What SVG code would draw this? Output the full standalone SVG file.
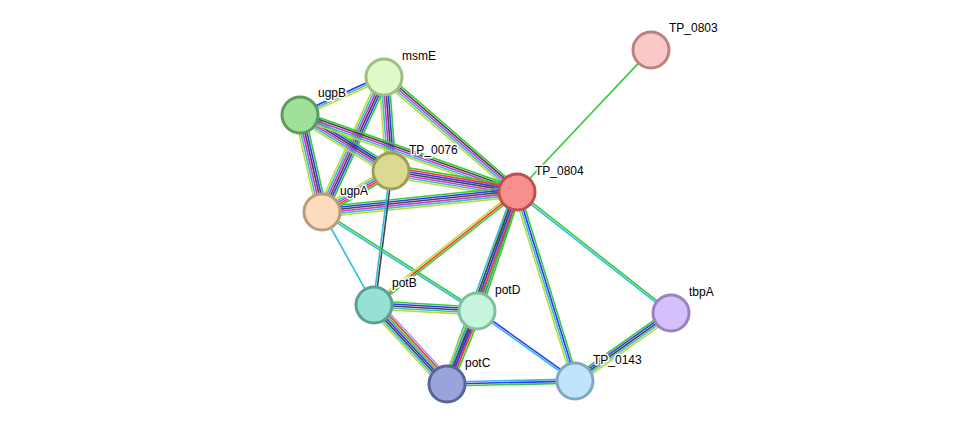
<svg xmlns="http://www.w3.org/2000/svg" width="976" height="430" viewBox="0 0 976 430">
<style>
line{stroke-width:1.6;fill:none}
.g{stroke:#33cc33}.r{stroke:#ff3333}.b{stroke:#3333ff}.k{stroke:#444}.m{stroke:#cc33cc}.c{stroke:#33bbdd}.y{stroke:#bbdd33}.l{stroke:#9999ff}
circle{stroke-width:3}
text{font-family:"Liberation Sans",Arial,sans-serif;font-size:12px;fill:#000;stroke:#fff;stroke-width:3px;paint-order:stroke;stroke-linejoin:round}
</style>
<rect width="976" height="430" fill="#fff"/>
<g id="edges">
<g transform="translate(517,192) rotate(-46.7)"><line class="g" x2="195" y1="0" y2="0"/></g>
<g transform="translate(300,115) rotate(-24.3)"><line class="b" x2="92" y1="-2" y2="-2"/><line class="c" x2="92" y1="0" y2="0"/><line class="y" x2="92" y1="2" y2="2"/></g>
<g transform="translate(384,77) rotate(85.7)"><line class="g" x2="94" y1="-5" y2="-5"/><line class="b" x2="94" y1="-3" y2="-3"/><line class="k" x2="94" y1="-1" y2="-1"/><line class="m" x2="94" y1="1" y2="1"/><line class="c" x2="94" y1="3" y2="3"/><line class="y" x2="94" y1="5" y2="5"/></g>
<g transform="translate(384,77) rotate(114.7)"><line class="g" x2="149" y1="-5" y2="-5"/><line class="b" x2="149" y1="-3" y2="-3"/><line class="k" x2="149" y1="-1" y2="-1"/><line class="m" x2="149" y1="1" y2="1"/><line class="c" x2="149" y1="3" y2="3"/><line class="y" x2="149" y1="5" y2="5"/></g>
<g transform="translate(384,77) rotate(40.8)"><line class="g" x2="176" y1="-4" y2="-4"/><line class="k" x2="176" y1="-2" y2="-2"/><line class="m" x2="176" y1="0" y2="0"/><line class="c" x2="176" y1="2" y2="2"/><line class="y" x2="176" y1="4" y2="4"/></g>
<g transform="translate(300,115) rotate(31.6)"><line class="g" x2="107" y1="-5" y2="-5"/><line class="b" x2="107" y1="-3" y2="-3"/><line class="k" x2="107" y1="-1" y2="-1"/><line class="m" x2="107" y1="1" y2="1"/><line class="c" x2="107" y1="3" y2="3"/><line class="y" x2="107" y1="5" y2="5"/></g>
<g transform="translate(300,115) rotate(77.2)"><line class="g" x2="100" y1="-5" y2="-5"/><line class="b" x2="100" y1="-3" y2="-3"/><line class="k" x2="100" y1="-1" y2="-1"/><line class="m" x2="100" y1="1" y2="1"/><line class="c" x2="100" y1="3" y2="3"/><line class="y" x2="100" y1="5" y2="5"/></g>
<g transform="translate(300,115) rotate(19.5)"><line class="g" x2="230" y1="-4" y2="-4"/><line class="k" x2="230" y1="-2" y2="-2"/><line class="m" x2="230" y1="0" y2="0"/><line class="c" x2="230" y1="2" y2="2"/><line class="y" x2="230" y1="4" y2="4"/></g>
<g transform="translate(391,171) rotate(149.3)"><line class="g" x2="80" y1="-4" y2="-4"/><line class="r" x2="80" y1="-2" y2="-2"/><line class="m" x2="80" y1="0" y2="0"/><line class="c" x2="80" y1="2" y2="2"/><line class="y" x2="80" y1="4" y2="4"/></g>
<g transform="translate(391,171) rotate(9.5)"><line class="g" x2="128" y1="-6" y2="-6"/><line class="r" x2="128" y1="-4" y2="-4"/><line class="b" x2="128" y1="-2" y2="-2"/><line class="k" x2="128" y1="0" y2="0"/><line class="m" x2="128" y1="2" y2="2"/><line class="c" x2="128" y1="4" y2="4"/><line class="y" x2="128" y1="6" y2="6"/></g>
<g transform="translate(322,212) rotate(-5.9)"><line class="g" x2="196" y1="-5" y2="-5"/><line class="b" x2="196" y1="-3" y2="-3"/><line class="k" x2="196" y1="-1" y2="-1"/><line class="m" x2="196" y1="1" y2="1"/><line class="c" x2="196" y1="3" y2="3"/><line class="y" x2="196" y1="5" y2="5"/></g>
<g transform="translate(391,171) rotate(97.2)"><line class="k" x2="135" y1="-1" y2="-1"/><line class="c" x2="135" y1="1" y2="1"/></g>
<g transform="translate(322,212) rotate(60.8)"><line class="c" x2="107" y1="0" y2="0"/></g>
<g transform="translate(322,212) rotate(32.6)"><line class="g" x2="184" y1="-1" y2="-1"/><line class="c" x2="184" y1="1" y2="1"/></g>
<g transform="translate(517,192) rotate(141.7)"><line class="g" x2="182" y1="-2" y2="-2"/><line class="r" x2="182" y1="0" y2="0"/><line class="y" x2="182" y1="2" y2="2"/></g>
<g transform="translate(517,192) rotate(108.6)"><line class="g" x2="126" y1="-4" y2="-4"/><line class="b" x2="126" y1="-2" y2="-2"/><line class="c" x2="126" y1="0" y2="0"/><line class="g" x2="126" y1="2" y2="2"/><line class="y" x2="126" y1="4" y2="4"/></g>
<g transform="translate(517,192) rotate(110)"><line class="g" x2="204" y1="-4" y2="-4"/><line class="r" x2="204" y1="-2" y2="-2"/><line class="b" x2="204" y1="0" y2="0"/><line class="k" x2="204" y1="2" y2="2"/><line class="c" x2="204" y1="4" y2="4"/></g>
<g transform="translate(517,192) rotate(72.9)"><line class="g" x2="198" y1="-3" y2="-3"/><line class="b" x2="198" y1="-1" y2="-1"/><line class="c" x2="198" y1="1" y2="1"/><line class="y" x2="198" y1="3" y2="3"/></g>
<g transform="translate(517,192) rotate(38.2)"><line class="g" x2="196" y1="-1" y2="-1"/><line class="c" x2="196" y1="1" y2="1"/></g>
<g transform="translate(374,305) rotate(3.3)"><line class="g" x2="103" y1="-4" y2="-4"/><line class="b" x2="103" y1="-2" y2="-2"/><line class="k" x2="103" y1="0" y2="0"/><line class="c" x2="103" y1="2" y2="2"/><line class="y" x2="103" y1="4" y2="4"/></g>
<g transform="translate(374,305) rotate(47.3)"><line class="l" x2="108" y1="-6" y2="-6"/><line class="r" x2="108" y1="-4" y2="-4"/><line class="g" x2="108" y1="-2" y2="-2"/><line class="b" x2="108" y1="0" y2="0"/><line class="k" x2="108" y1="2" y2="2"/><line class="c" x2="108" y1="4" y2="4"/><line class="y" x2="108" y1="6" y2="6"/></g>
<g transform="translate(477,311) rotate(112.3)"><line class="g" x2="79" y1="-5" y2="-5"/><line class="r" x2="79" y1="-3" y2="-3"/><line class="b" x2="79" y1="-1" y2="-1"/><line class="k" x2="79" y1="1" y2="1"/><line class="c" x2="79" y1="3" y2="3"/><line class="y" x2="79" y1="5" y2="5"/></g>
<g transform="translate(477,311) rotate(35.5)"><line class="b" x2="120" y1="-1" y2="-1"/><line class="c" x2="120" y1="1" y2="1"/></g>
<g transform="translate(447,384) rotate(-1.3)"><line class="c" x2="128" y1="-2" y2="-2"/><line class="b" x2="128" y1="0" y2="0"/><line class="g" x2="128" y1="2" y2="2"/></g>
<g transform="translate(575,381) rotate(-35.3)"><line class="g" x2="118" y1="-4" y2="-4"/><line class="b" x2="118" y1="-2" y2="-2"/><line class="k" x2="118" y1="0" y2="0"/><line class="c" x2="118" y1="2" y2="2"/><line class="y" x2="118" y1="4" y2="4"/></g>
</g>
<g id="n-TP_0803"><circle cx="651" cy="50" r="18" fill="#f9c9c9" stroke="#c08080"/><text x="669" y="32">TP_0803</text></g>
<g id="n-TP_0804"><circle cx="517" cy="192" r="18" fill="#f88f8f" stroke="#c05050"/><text x="535" y="175">TP_0804</text></g>
<g id="n-msmE"><circle cx="384" cy="77" r="18" fill="#e0fbc9" stroke="#a0c080"/><text x="402" y="60">msmE</text></g>
<g id="n-ugpB"><circle cx="300" cy="115" r="18" fill="#a0e09a" stroke="#5c9c5c"/><text x="318" y="97">ugpB</text></g>
<g id="n-TP_0076"><circle cx="391" cy="171" r="18" fill="#dcd994" stroke="#a09c5c"/><text x="409" y="154">TP_0076</text></g>
<g id="n-ugpA"><circle cx="322" cy="212" r="18" fill="#fcdcbc" stroke="#bc9c7c"/><text x="340" y="195">ugpA</text></g>
<g id="n-potB"><circle cx="374" cy="305" r="18" fill="#96e0d4" stroke="#5aa098"/><text x="392" y="287">potB</text></g>
<g id="n-potD"><circle cx="477" cy="311" r="18" fill="#c6f4dc" stroke="#80c0a0"/><text x="495" y="294">potD</text></g>
<g id="n-potC"><circle cx="447" cy="384" r="18" fill="#9aa4dc" stroke="#5a649c"/><text x="465" y="367">potC</text></g>
<g id="n-TP_0143"><circle cx="575" cy="381" r="18" fill="#c0e4fa" stroke="#80a8c0"/><text x="593" y="364">TP_0143</text></g>
<g id="n-tbpA"><circle cx="671" cy="313" r="18" fill="#d4c0fa" stroke="#9c80c0"/><text x="689" y="296">tbpA</text></g>
</svg>
